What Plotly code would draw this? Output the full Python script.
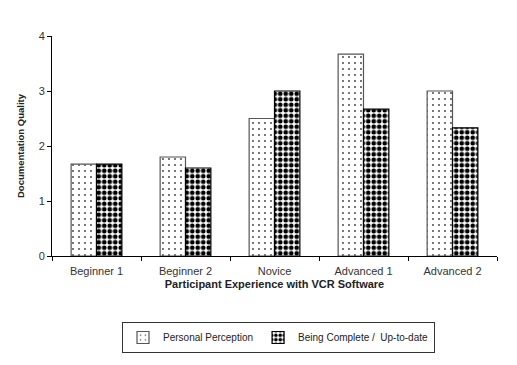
import plotly.graph_objects as go

categories = ["Beginner 1", "Beginner 2", "Novice", "Advanced 1", "Advanced 2"]
personal_perception = [1.67, 1.8, 2.5, 3.67, 3.0]
being_complete = [1.67, 1.6, 3.0, 2.67, 2.33]
y_ticks = [0, 1, 2, 3, 4]

fnt = "Liberation Sans, Arial, sans-serif"

fig = go.Figure()
fig.add_trace(go.Bar(
    x=categories, y=personal_perception, name="Personal Perception",
    marker=dict(color="white", line=dict(color="#555555", width=1.2),
                pattern=dict(shape=".", fgcolor="#444444", bgcolor="white",
                             size=6, solidity=0.08, fillmode="replace")),
))
fig.add_trace(go.Bar(
    x=categories, y=being_complete, name="Being Complete /  Up-to-date",
    marker=dict(color="white", line=dict(color="black", width=1.2),
                pattern=dict(shape=".", fgcolor="black", bgcolor="white",
                             size=5.5, solidity=0.55, fillmode="replace")),
))

fig.update_layout(
    width=509, height=357,
    margin=dict(l=44, r=20, t=28, b=109),
    paper_bgcolor="white", plot_bgcolor="white",
    barmode="group", bargap=0.43, bargroupgap=0,
    font=dict(family=fnt, size=11, color="#222222"),
    showlegend=True,
    legend=dict(orientation="h", x=0.509, xanchor="center", y=-0.30, yanchor="top",
                bordercolor="#333333", borderwidth=1,
                font=dict(size=10, family=fnt), itemwidth=30,
                tracegroupgap=0),
    xaxis=dict(
        automargin=False,
        showline=True, linecolor="black", linewidth=1,
        ticks="outside", tickson="boundaries", ticklen=4, tickcolor="black",
        ticklabelstandoff=5,
        title=dict(text="<b>Participant Experience with VCR Software</b>",
                   font=dict(size=11, family=fnt), standoff=4),
        tickfont=dict(size=11, family=fnt, color="#333333"),
        showgrid=False,
    ),
    yaxis=dict(
        automargin=False,
        range=[0, 4], tickvals=y_ticks,
        showline=True, linecolor="black", linewidth=1,
        ticks="outside", ticklen=4, tickcolor="black",
        title=dict(text="<b>Documentation Quality</b>",
                   font=dict(size=9.5, family=fnt), standoff=12),
        tickfont=dict(size=11, family=fnt, color="#333333"),
        showgrid=False, zeroline=False,
    ),
)

fig.write_html("out.html")
